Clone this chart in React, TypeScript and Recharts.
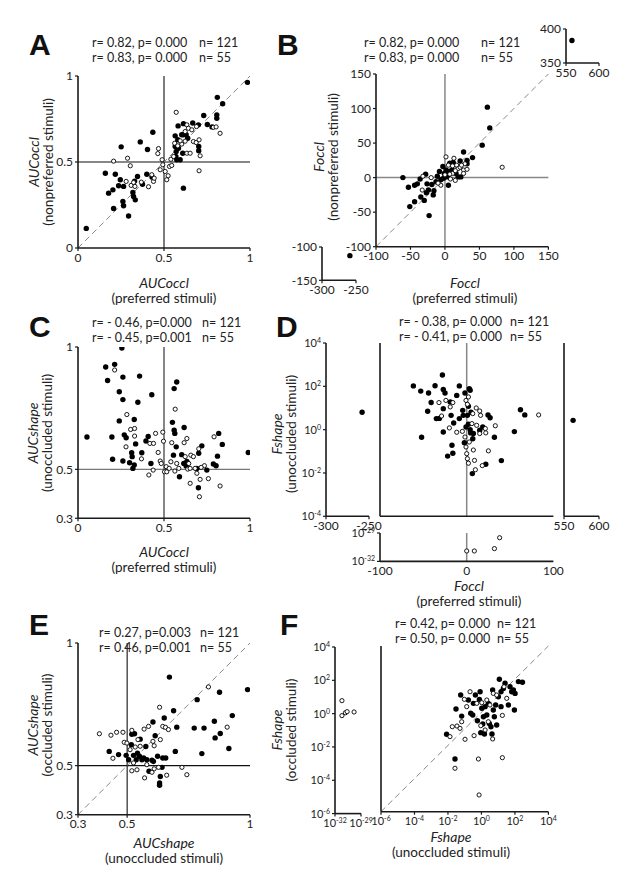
import React from 'react';
import { ScatterChart, Scatter, XAxis, YAxis, ReferenceLine } from 'recharts';

type P = [number, number];

// ---- panel A: AUCoccl preferred vs nonpreferred ----
const aFilled: P[] = [
  [0.048, 0.114], [0.159, 0.435], [0.178, 0.319], [0.203, 0.338], [0.207, 0.23], [0.217, 0.429],
  [0.236, 0.362], [0.246, 0.397], [0.251, 0.588], [0.265, 0.358], [0.261, 0.271], [0.265, 0.246],
  [0.294, 0.186], [0.319, 0.323], [0.323, 0.3], [0.333, 0.28], [0.329, 0.389], [0.346, 0.416],
  [0.362, 0.617], [0.375, 0.371], [0.4, 0.429], [0.404, 0.573], [0.431, 0.412], [0.435, 0.673],
  [0.565, 0.652], [0.565, 0.59], [0.569, 0.532], [0.574, 0.513], [0.582, 0.71], [0.594, 0.513],
  [0.609, 0.551], [0.613, 0.348], [0.613, 0.658], [0.629, 0.658], [0.638, 0.638], [0.603, 0.658],
  [0.571, 0.561], [0.58, 0.629], [0.584, 0.58], [0.613, 0.723], [0.667, 0.727], [0.7, 0.716],
  [0.702, 0.59], [0.702, 0.565], [0.731, 0.77], [0.752, 0.718], [0.779, 0.704], [0.807, 0.774],
  [0.807, 0.754], [0.81, 0.876], [0.841, 0.839], [0.985, 0.963],
];
const aOpen: P[] = [
  [0.207, 0.505], [0.288, 0.522], [0.304, 0.478], [0.28, 0.387], [0.309, 0.364], [0.323, 0.381],
  [0.331, 0.358], [0.368, 0.383], [0.41, 0.356], [0.429, 0.426], [0.439, 0.387], [0.443, 0.406],
  [0.468, 0.578], [0.464, 0.549], [0.478, 0.455], [0.489, 0.513], [0.493, 0.484], [0.507, 0.445],
  [0.516, 0.397], [0.524, 0.42], [0.532, 0.474], [0.54, 0.516], [0.556, 0.532], [0.562, 0.609],
  [0.571, 0.789], [0.633, 0.716], [0.642, 0.696], [0.662, 0.687], [0.671, 0.619], [0.687, 0.613],
  [0.633, 0.551], [0.652, 0.551], [0.704, 0.629], [0.71, 0.536], [0.704, 0.449], [0.787, 0.702],
  [0.803, 0.704], [0.826, 0.667], [0.623, 0.677], [0.689, 0.706], [0.603, 0.604], [0.623, 0.621],
  [0.594, 0.623], [0.58, 0.594], [0.545, 0.48],
];

// ---- panel B: Foccl preferred vs nonpreferred ----
const bFilled: P[] = [
  [-61, 0], [-53, -14], [-51, -42], [-44, -35], [-44, -11], [-40, -9], [-36, -2], [-35, -28],
  [-30, -33], [-28, 5], [-26, -9], [-27, -22], [-24, -18], [-23, -55], [-19, -10], [-17, -25],
  [-16, -19], [-13, -6], [-11, 2], [-8, 9], [-6, -3], [-3, 16], [-1, 6], [1.5, 11], [2.5, 1],
  [5, 4], [5, -11], [7, 21], [10, 11], [12, 22], [16, 6], [19, 1], [22, 24], [23, 1], [27, 37],
  [32, 25], [32, 20], [40, 29], [54, 47], [61.5, 102], [65, 72], [5, 9], [-2, -1],
];
const bOpen: P[] = [
  [-32, 2], [-33, -18], [-20, 0], [-6, -11], [1.5, 30], [5, 18], [11, 17], [13, 28], [17, 18],
  [19, 13], [22, 15], [27, 11], [29, 20], [32, 12], [11, 6], [15, 10], [7, 5], [0, 4], [15, -4],
  [83, 15], [27, 6], [24, 18], [-10, -8], [8, -2],
];
const bTopRight: P[] = [[559, 383]];
const bBottomLeft: P[] = [[-259, -113]];

// ---- panel C: AUCoccl vs AUCshape ----
const cFilled: P[] = [
  [0.052, 0.632], [0.161, 0.918], [0.172, 0.863], [0.213, 0.929], [0.201, 0.541], [0.197, 0.632],
  [0.24, 0.817], [0.24, 0.698], [0.261, 0.877], [0.261, 0.785], [0.255, 0.996], [0.261, 0.534],
  [0.269, 0.641], [0.28, 0.629], [0.3, 0.527], [0.312, 0.568], [0.315, 0.552], [0.319, 0.504],
  [0.327, 0.704], [0.327, 0.518], [0.335, 0.604], [0.348, 0.774], [0.358, 0.881], [0.371, 0.568],
  [0.395, 0.616], [0.408, 0.634], [0.424, 0.524], [0.429, 0.805], [0.549, 0.692], [0.559, 0.83],
  [0.574, 0.857], [0.559, 0.66], [0.563, 0.647], [0.555, 0.558], [0.571, 0.592], [0.59, 0.47],
  [0.603, 0.56], [0.615, 0.524], [0.617, 0.671], [0.629, 0.514], [0.633, 0.532], [0.702, 0.566],
  [0.72, 0.596], [0.7, 0.425], [0.691, 0.504], [0.749, 0.497], [0.787, 0.522], [0.803, 0.515],
  [0.811, 0.554], [0.818, 0.647], [0.839, 0.602], [0.99, 0.569],
];
const cOpen: P[] = [
  [0.213, 0.906], [0.284, 0.724], [0.306, 0.663], [0.329, 0.667], [0.329, 0.636], [0.279, 0.592],
  [0.369, 0.543], [0.412, 0.477], [0.437, 0.497], [0.418, 0.606], [0.439, 0.606], [0.451, 0.647],
  [0.466, 0.569], [0.478, 0.534], [0.493, 0.652], [0.497, 0.615], [0.484, 0.524], [0.503, 0.49],
  [0.513, 0.511], [0.516, 0.49], [0.53, 0.504], [0.54, 0.531], [0.545, 0.609], [0.565, 0.746],
  [0.563, 0.493], [0.574, 0.524], [0.586, 0.504], [0.617, 0.609], [0.623, 0.552], [0.633, 0.626],
  [0.638, 0.501], [0.644, 0.524], [0.656, 0.558], [0.652, 0.504], [0.671, 0.552], [0.681, 0.504],
  [0.691, 0.484], [0.71, 0.459], [0.702, 0.584], [0.735, 0.515], [0.758, 0.462], [0.791, 0.633],
  [0.826, 0.432], [0.706, 0.388], [0.652, 0.443], [0.716, 0.508],
];

// ---- panel D: Foccl vs Fshape (y in log10 units) ----
const dFilled: P[] = [
  [-61.5, 2.02], [-53, 1.78], [-52, -0.35], [-44, 1.69], [-45, 0.85], [-41, 1.25], [-36.5, 2.03],
  [-35, 0.51], [-31.5, 0.52], [-28, 2.52], [-27, 1.85], [-25, 1.69], [-27, 0.97], [-27, -0.11],
  [-22, -1.22], [-19, 1.28], [-18, 0.66], [-17, -0.72], [-16, -1.09], [-15, 0.31], [-11.5, 1.58],
  [-8.5, 2.02], [-8.5, 0.51], [-4.6, 0.89], [-4, 0.66], [-2.7, -0.6], [-2, 1.69], [0.8, 0.66],
  [2, 1.08], [3, 1.89], [4, 1.82], [2, 0.25], [4, 0], [4.6, -0.15], [7, -0.42], [5, 0.8],
  [6.5, -2.03], [7.7, -0.18], [15, -0.03], [18.5, 0.12], [22, -1.6], [24.6, 0.68], [27, 0.55],
  [32, -0.35], [40, -1.43], [55, -0.09], [62, 0.92], [67, 0.68], [-0.8, 0.12],
];
const dOpen: P[] = [
  [-32, 1.25], [-24, 1.35], [-19, 1.05], [-16, 1.25], [-29, 0.63], [-20, 0.08], [-11.5, -0.12],
  [-5, -0.08], [-0.8, 1.35], [0.8, 1.17], [2, 1.51], [-2, -0.34], [-0.8, -0.8], [0, -1.11],
  [0.8, -1.34], [2, -1.55], [3, -0.57], [6, 0.28], [7.7, -0.94], [9, -1.42], [10, -1.85],
  [11, 1.0], [15, 0.86], [16, 0.66], [11.5, 0.2], [15, -0.18], [18, -1.66], [21.5, 0.05],
  [22, -0.15], [25, -0.98], [33, 0.18], [83, 0.68], [7, 0.74],
];
const dLeft: P[] = [[-258, 0.8]];
const dRight: P[] = [[563, 0.43]];
const dBottomOpen: P[] = [[0, -30.9], [8.8, -30.9], [32, -30.65], [38, -29.5]];

// ---- panel E: AUCshape unoccluded vs occluded ----
const eFilled: P[] = [
  [0.427, 0.558], [0.465, 0.545], [0.496, 0.542], [0.506, 0.524], [0.517, 0.585], [0.519, 0.628],
  [0.53, 0.63], [0.526, 0.542], [0.537, 0.524], [0.542, 0.551], [0.55, 0.538], [0.553, 0.608],
  [0.56, 0.524], [0.567, 0.531], [0.58, 0.524], [0.576, 0.578], [0.589, 0.477], [0.601, 0.522],
  [0.607, 0.517], [0.614, 0.622], [0.624, 0.538], [0.635, 0.456], [0.632, 0.429], [0.632, 0.42],
  [0.645, 0.531], [0.642, 0.493], [0.651, 0.694], [0.657, 0.531], [0.672, 0.861], [0.689, 0.724],
  [0.702, 0.657], [0.696, 0.558], [0.605, 0.678], [0.773, 0.653], [0.785, 0.769], [0.804, 0.549],
  [0.813, 0.653], [0.855, 0.681], [0.858, 0.613], [0.876, 0.799], [0.879, 0.631], [0.914, 0.57],
  [0.928, 0.704], [0.99, 0.81],
];
const eOpen: P[] = [
  [0.387, 0.63], [0.434, 0.624], [0.457, 0.636], [0.483, 0.636], [0.442, 0.53], [0.488, 0.595],
  [0.499, 0.592], [0.512, 0.565], [0.519, 0.644], [0.533, 0.576], [0.544, 0.606], [0.553, 0.579],
  [0.569, 0.649], [0.587, 0.66], [0.605, 0.599], [0.61, 0.581], [0.632, 0.738], [0.635, 0.606],
  [0.645, 0.66], [0.656, 0.656], [0.668, 0.647], [0.526, 0.511], [0.54, 0.483], [0.519, 0.479],
  [0.571, 0.45], [0.601, 0.473], [0.61, 0.487], [0.661, 0.461], [0.723, 0.493], [0.743, 0.463],
  [0.628, 0.493], [0.58, 0.504], [0.907, 0.657], [0.831, 0.821],
];

// ---- panel F: Fshape unoccluded vs occluded (both in log10 units) ----
const fFilled: P[] = [
  [-2.08, -1.33], [-1.58, -2.82], [-1.52, 0.2], [-1.24, 1.04], [-1.18, -0.23], [-0.78, 0.74],
  [-0.64, -0.06], [-0.52, -0.16], [-0.48, 0.54], [-0.36, 1.04], [-0.24, -0.51], [-0.12, 0.78],
  [-0.08, 1.24], [-0.04, -1.23], [0.02, 0.24], [0.12, -0.27], [0.18, -1.31], [0.22, 0.34],
  [0.32, -0.16], [0.41, 0.54], [0.47, -0.67], [0.57, -0.87], [0.63, -1.31], [0.67, 1.34],
  [0.71, 0.14], [0.77, -0.27], [0.85, 0.44], [0.91, -0.77], [1.01, 0.94], [1.07, 1.99],
  [1.17, 0.34], [1.17, 1.24], [1.31, 1.44], [1.41, 1.75], [1.61, 0.44], [1.71, 1.54],
  [1.81, 1.24], [1.91, 1.34], [1.97, 0.14], [2.01, 1.14], [2.21, 1.85], [2.45, 1.81], [0.08, -0.71],
];
const fOpen: P[] = [
  [-1.88, -1.47], [-1.74, -0.87], [-1.58, -3.38], [-1.46, -0.83], [-1.28, -0.97], [-1.18, -0.57],
  [-1.02, 0.78], [-0.98, -1.63], [-0.88, 0.34], [-0.68, 1.24], [-0.44, -1.41], [-0.18, -2.82],
  [-0.14, -4.99], [-0.04, -0.81], [0.02, 0.58], [0.22, -1.07], [0.32, 0.74], [0.51, 0.44],
  [0.67, -1.61], [0.71, 1.14], [0.91, 1.04], [1.25, -0.19], [1.25, -2.74], [1.35, 1.54],
  [1.51, 0.84], [-0.28, 0.54], [0.41, -0.57],
];
const fLeftOpen: P[] = [[-31.2, 0.78], [-31.2, -0.12], [-30.8, 0.05], [-30.6, 0.12], [-29.8, 0.1]];

const FONT = 'Lato, "Open Sans", sans-serif';
const AXIS = '#1a1a1a';
const PAD_L = 42;
const PAD_T = 8;
const PAD_R = 20;
const PAD_B = 22;

const Dot = (props: any) => {
  const { cx, cy } = props;
  if (cx == null || cy == null) return null;
  return <circle cx={cx} cy={cy} r={2.7} fill="#000" />;
};

const Ring = (props: any) => {
  const { cx, cy } = props;
  if (cx == null || cy == null) return null;
  return <circle cx={cx} cy={cy} r={2.1} fill="#fff" stroke="#000" strokeWidth={0.9} />;
};

const PowTickX = ({ x, y, payload }: any) => (
  <text x={x} y={y} dy="0.75em" textAnchor="middle" fontSize={11} fill="#222">
    10<tspan dy={-4} fontSize={7}>{payload.value}</tspan>
  </text>
);

const PowTickY = ({ x, y, payload }: any) => (
  <text x={x} y={y} dy="0.36em" textAnchor="end" fontSize={11} fill="#222">
    10<tspan dy={-4} fontSize={7}>{payload.value}</tspan>
  </text>
);

type PlotProps = {
  left: number;
  top: number;
  w: number;
  h: number;
  xd: [number, number];
  yd: [number, number];
  xt: number[];
  yt: number[];
  filled?: P[];
  open?: P[];
  xLab?: 'num' | 'pow' | 'none';
  yLab?: 'num' | 'pow' | 'none';
  xTickLine?: boolean;
  refs?: React.ReactNode[];
};

const tickFor = (kind: string | undefined, axis: 'x' | 'y') => {
  if (kind === 'none') return false;
  if (kind === 'pow') return axis === 'x' ? <PowTickX /> : <PowTickY />;
  return { fontSize: 12, fill: '#222' };
};

const Plot = (p: PlotProps) => {
  const toData = (a?: P[]) => (a ?? []).map(([x, y]) => ({ x, y }));
  return (
    <div style={{ position: 'absolute', left: p.left - PAD_L, top: p.top - PAD_T }}>
      <ScatterChart
        width={p.w + PAD_L + PAD_R}
        height={p.h + PAD_T + PAD_B}
        margin={{ top: PAD_T, right: PAD_R, left: 0, bottom: 0 }}
      >
        <XAxis
          type="number"
          dataKey="x"
          domain={p.xd}
          ticks={p.xt}
          interval={0}
          height={PAD_B}
          allowDataOverflow
          axisLine={{ stroke: AXIS, strokeWidth: 1.6 }}
          tickLine={p.xTickLine === false ? false : { stroke: AXIS, strokeWidth: 1.2 }}
          tickSize={3}
          tickMargin={2}
          tick={tickFor(p.xLab, 'x')}
        />
        <YAxis
          type="number"
          dataKey="y"
          domain={p.yd}
          ticks={p.yt}
          interval={0}
          width={PAD_L}
          allowDataOverflow
          axisLine={{ stroke: AXIS, strokeWidth: 1.6 }}
          tickLine={{ stroke: AXIS, strokeWidth: 1.2 }}
          tickSize={3}
          tickMargin={2}
          tick={tickFor(p.yLab, 'y')}
        />
        {p.refs}
        <Scatter data={toData(p.filled)} shape={<Dot />} isAnimationActive={false} />
        <Scatter data={toData(p.open)} shape={<Ring />} isAnimationActive={false} />
      </ScatterChart>
    </div>
  );
};

const Stats = ({ x, nx, y, l1, l2, n1, n2 }: any) => (
  <g fontSize={12.5} fill="#222">
    <text x={x} y={y}>{l1}</text>
    <text x={nx} y={y}>{n1}</text>
    <text x={x} y={y + 15}>{l2}</text>
    <text x={nx} y={y + 15}>{n2}</text>
  </g>
);

const XTitle = ({ cx, y, name, sub }: any) => (
  <g textAnchor="middle" fill="#222">
    <text x={cx} y={y} fontSize={14} fontStyle="italic">{name}</text>
    <text x={cx} y={y + 14.5} fontSize={13.5}>{sub}</text>
  </g>
);

const YTitle = ({ x, cy, name, sub }: any) => (
  <g textAnchor="middle" fill="#222">
    <text transform={`translate(${x},${cy}) rotate(-90)`} fontSize={14} fontStyle="italic">{name}</text>
    <text transform={`translate(${x + 14},${cy}) rotate(-90)`} fontSize={13.5}>{sub}</text>
  </g>
);

const Letter = ({ x, y, t }: any) => (
  <text x={x} y={y} fontSize={30} fontWeight="bold" fontFamily='"Liberation Sans", Arial, sans-serif' fill="#111">
    {t}
  </text>
);

const diag = (a: number, b: number, key: string) => (
  <ReferenceLine key={key} segment={[{ x: a, y: a }, { x: b, y: b }]} stroke="#888" strokeWidth={1} strokeDasharray="6 4" />
);

export default function App() {
  const unitTicks = [0, 0.5, 1];
  const shapeTicks = [0.3, 0.5, 1];
  const fTicks = [-6, -4, -2, 0, 2, 4];
  const dTicks = [-4, -2, 0, 2, 4];
  return (
    <div style={{ position: 'absolute', left: 0, top: 0, width: 634, height: 888, background: '#fff', fontFamily: FONT }}>
      {/* A */}
      <Plot left={78} top={76} w={172} h={172} xd={[0, 1]} yd={[0, 1]} xt={unitTicks} yt={unitTicks}
        filled={aFilled} open={aOpen}
        refs={[
          <ReferenceLine key="ax" x={0.5} stroke="#111" strokeWidth={1.1} />,
          <ReferenceLine key="ay" y={0.5} stroke="#111" strokeWidth={1.1} />,
          diag(0, 1, 'ad'),
        ]} />
      {/* B */}
      <Plot left={376.3} top={74} w={172.4} h={172.7} xd={[-100, 150]} yd={[-100, 150]}
        xt={[-100, -50, 0, 50, 100, 150]} yt={[-100, -50, 0, 50, 100, 150]}
        filled={bFilled} open={bOpen}
        refs={[
          <ReferenceLine key="bx" x={0} stroke="#888" strokeWidth={1.5} />,
          <ReferenceLine key="by" y={0} stroke="#888" strokeWidth={1.5} />,
          diag(-100, 150, 'bd'),
        ]} />
      <Plot left={566} top={29} w={33} h={34} xd={[550, 600]} yd={[350, 400]} xt={[550, 600]} yt={[350, 400]}
        filled={bTopRight} />
      <Plot left={321.7} top={246.7} w={34} h={33.3} xd={[-300, -250]} yd={[-150, -100]}
        xt={[-300, -250]} yt={[-150, -100]} filled={bBottomLeft} />
      {/* C */}
      <Plot left={78} top={346.7} w={172} h={171.3} xd={[0, 1]} yd={[0.3, 1]} xt={unitTicks} yt={shapeTicks}
        filled={cFilled} open={cOpen}
        refs={[
          <ReferenceLine key="cx" x={0.5} stroke="#222" strokeWidth={1.1} />,
          <ReferenceLine key="cy" y={0.5} stroke="#777" strokeWidth={1.1} />,
        ]} />
      {/* D */}
      <Plot left={325.5} top={342.7} w={43} h={173.3} xd={[-300, -250]} yd={[-4, 4]} xt={[-300, -250]} yt={dTicks}
        yLab="pow" filled={dLeft} />
      <Plot left={380.3} top={342.7} w={173.4} h={173.3} xd={[-100, 100]} yd={[-4, 4]} xt={[-100, 0, 100]} yt={dTicks}
        xLab="none" yLab="none" xTickLine={false} filled={dFilled} open={dOpen}
        refs={[<ReferenceLine key="dx" x={0} stroke="#888" strokeWidth={1.5} />]} />
      <Plot left={563.7} top={342.7} w={35} h={173.3} xd={[550, 600]} yd={[-4, 4]} xt={[550, 600]} yt={dTicks}
        yLab="none" filled={dRight} />
      <Plot left={380.3} top={533.3} w={173.4} h={28.4} xd={[-100, 100]} yd={[-32, -29]} xt={[-100, 0, 100]} yt={[-32, -29]}
        yLab="pow" xTickLine={false} open={dBottomOpen}
        refs={[<ReferenceLine key="dbx" x={0} stroke="#888" strokeWidth={1.5} />]} />
      {/* E */}
      <Plot left={78} top={643.3} w={172} h={171.7} xd={[0.3, 1]} yd={[0.3, 1]} xt={shapeTicks} yt={shapeTicks}
        filled={eFilled} open={eOpen}
        refs={[
          <ReferenceLine key="ex" x={0.5} stroke="#111" strokeWidth={1.1} />,
          <ReferenceLine key="ey" y={0.5} stroke="#111" strokeWidth={1.1} />,
          diag(0.3, 1, 'ed'),
        ]} />
      {/* F */}
      <Plot left={335} top={646.7} w={26} h={166.6} xd={[-32, -29]} yd={[-6, 4]} xt={[-32, -29]} yt={fTicks}
        xLab="pow" yLab="pow" open={fLeftOpen} />
      <Plot left={381.3} top={646} w={167.4} h={165.7} xd={[-6, 4]} yd={[-6, 4]} xt={fTicks} yt={fTicks}
        xLab="pow" yLab="none" filled={fFilled} open={fOpen}
        refs={[diag(-6, 4, 'fd')]} />

      <svg width={634} height={888} style={{ position: 'absolute', left: 0, top: 0, pointerEvents: 'none' }}>
        <Letter x={29} y={55} t="A" />
        <Letter x={277} y={55} t="B" />
        <Letter x={29} y={337} t="C" />
        <Letter x={276} y={337} t="D" />
        <Letter x={29} y={635} t="E" />
        <Letter x={280} y={635} t="F" />

        <Stats x={92} nx={199} y={47} l1="r= 0.82, p= 0.000" n1="n= 121" l2="r= 0.83, p= 0.000" n2="n= 55" />
        <Stats x={364} nx={481} y={47} l1="r= 0.82, p= 0.000" n1="n= 121" l2="r= 0.83, p= 0.000" n2="n= 55" />
        <Stats x={92} nx={202} y={327} l1="r= - 0.46, p=0.000" n1="n= 121" l2="r= - 0.45, p=0.001" n2="n= 55" />
        <Stats x={399} nx={510} y={326} l1="r= - 0.38, p= 0.000" n1="n= 121" l2="r= - 0.41, p= 0.000" n2="n= 55" />
        <Stats x={99} nx={200} y={637} l1="r= 0.27, p=0.003" n1="n= 121" l2="r= 0.46, p=0.001" n2="n= 55" />
        <Stats x={395} nx={497} y={628} l1="r= 0.42, p= 0.000" n1="n= 121" l2="r= 0.50, p= 0.000" n2="n= 55" />

        <XTitle cx={164} y={288} name="AUCoccl" sub="(preferred stimuli)" />
        <XTitle cx={465} y={288} name="Foccl" sub="(preferred stimuli)" />
        <XTitle cx={164} y={557} name="AUCoccl" sub="(preferred stimuli)" />
        <XTitle cx={469} y={591} name="Foccl" sub="(preferred stimuli)" />
        <XTitle cx={164} y={848} name="AUCshape" sub="(unoccluded stimuli)" />
        <XTitle cx={451} y={842} name="Fshape" sub="(unoccluded stimuli)" />

        <YTitle x={39} cy={162} name="AUCoccl" sub="(nonpreferred stimuli)" />
        <YTitle x={324} cy={157} name="Foccl" sub="(nonpreferred stimuli)" />
        <YTitle x={38} cy={433} name="AUCshape" sub="(unoccluded stimuli)" />
        <YTitle x={282} cy={434} name="Fshape" sub="(unoccluded stimuli)" />
        <YTitle x={38} cy={725} name="AUCshape" sub="(occluded stimuli)" />
        <YTitle x={282} cy={730} name="Fshape" sub="(occluded stimuli)" />
      </svg>
    </div>
  );
}
